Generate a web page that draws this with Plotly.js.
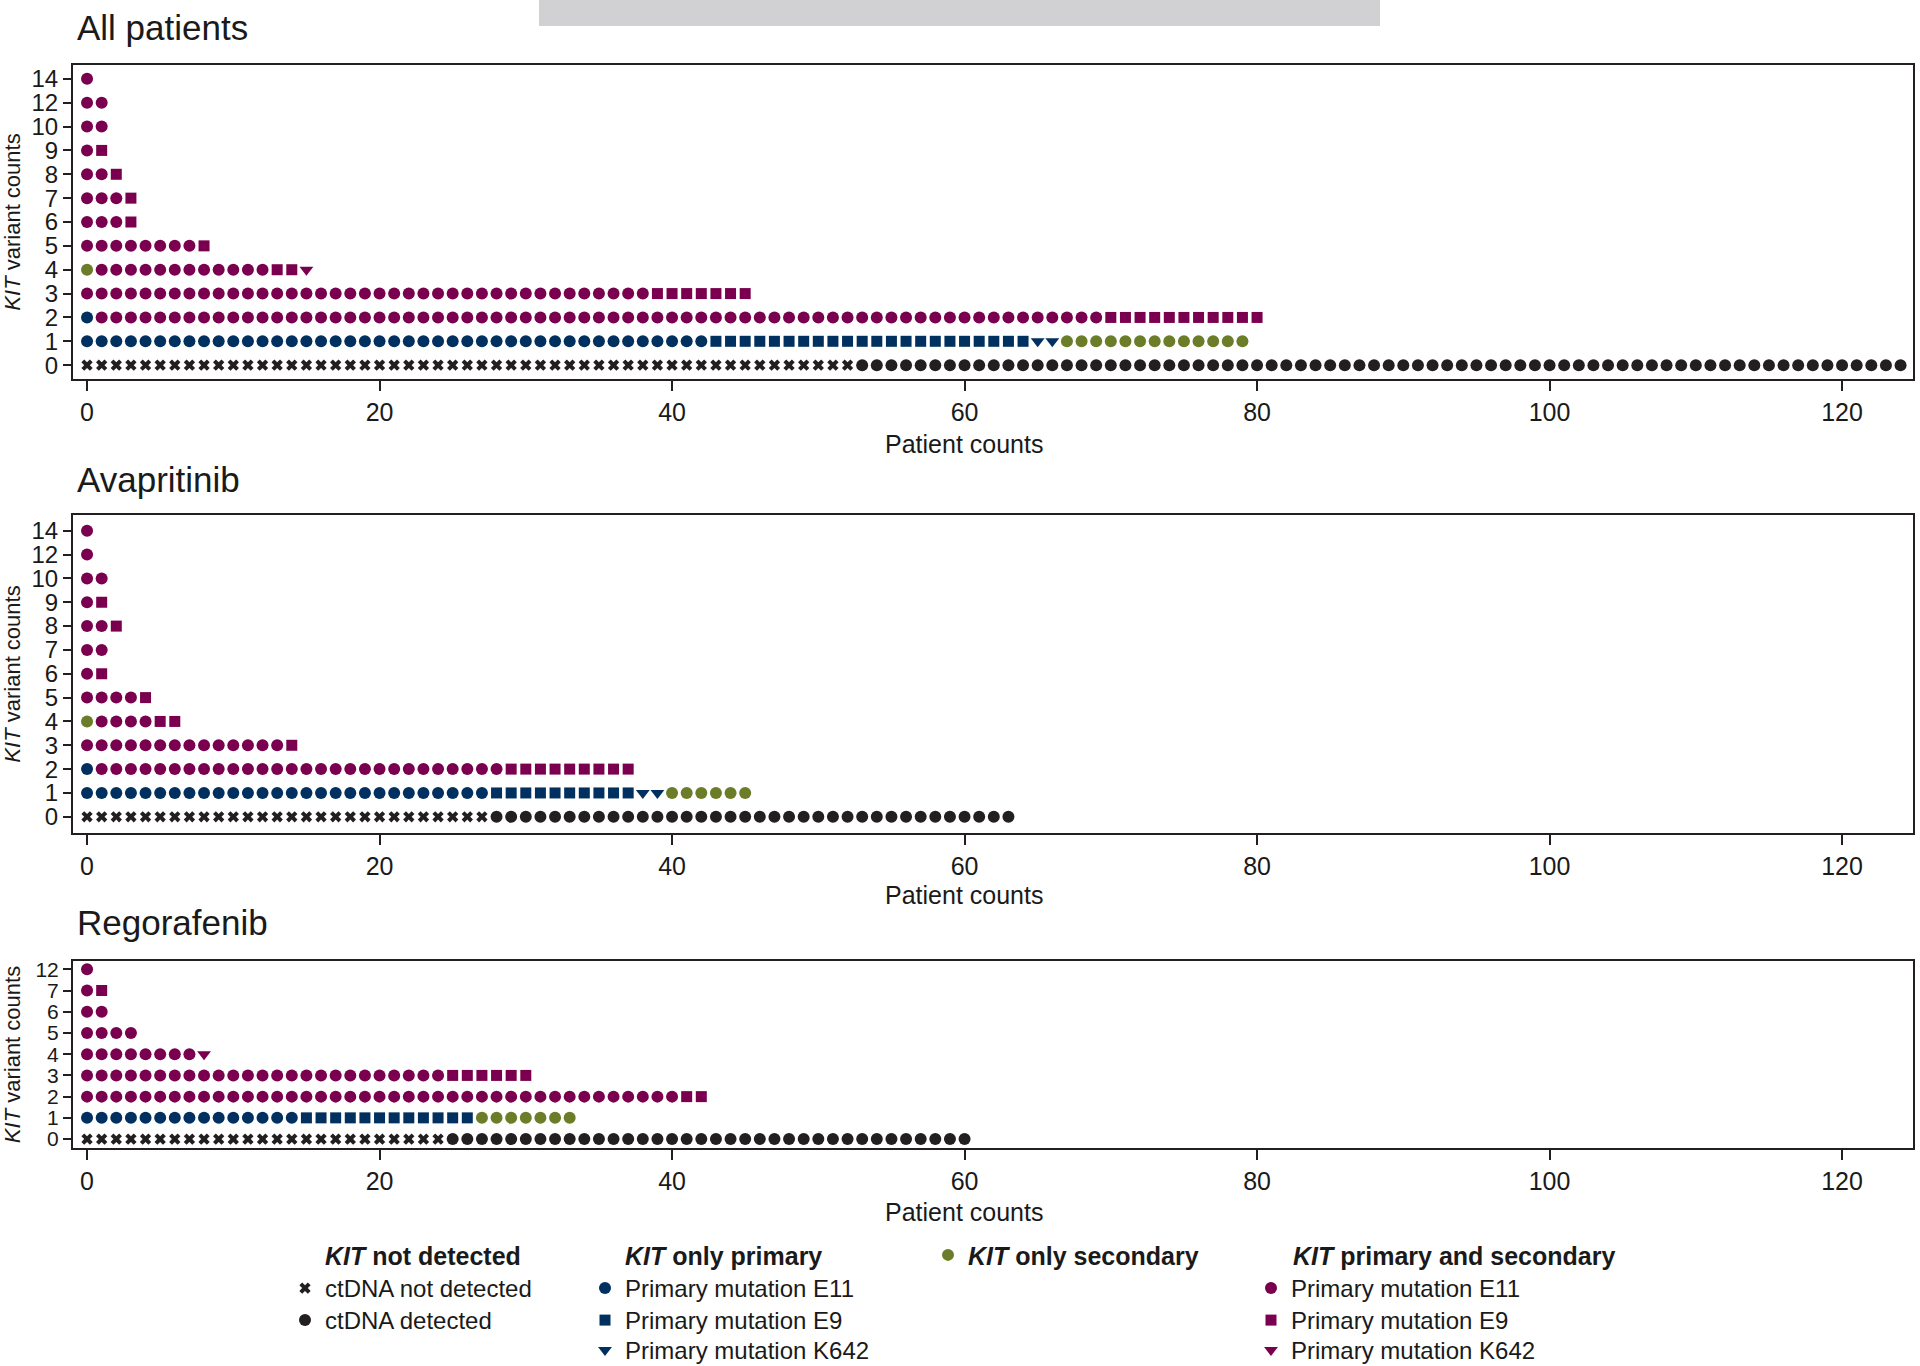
<!DOCTYPE html>
<html><head><meta charset="utf-8">
<script src="https://cdn.plot.ly/plotly-3.0.1.min.js"></script>
<style>html,body{margin:0;padding:0;background:#fff;overflow:hidden}#chart{width:1920px;height:1366px}</style>
</head><body><div id="chart"></div>
<script>
// ---------------- DATA ----------------
const CATEGORIES_MAIN = ['0','1','2','3','4','5','6','7','8','9','10','12','14'];
const CATEGORIES_REGO = ['0','1','2','3','4','5','6','7','12'];
const X_TICKS = [0, 20, 40, 60, 80, 100, 120];
const PANEL_TITLES = ['All patients', 'Avapritinib', 'Regorafenib'];
const X_TITLE = 'Patient counts';
const Y_TITLE = '<i>KIT</i> variant counts';
const SERIES_NAMES = ['ctDNA not detected', 'ctDNA detected',
  'Primary mutation E11', 'Primary mutation E9', 'Primary mutation K642',
  '<b><i>KIT</i> only secondary</b>',
  'Primary mutation E11', 'Primary mutation E9', 'Primary mutation K642'];
const LEGEND_HEADERS = ['<b><i>KIT</i> not detected</b>', '<b><i>KIT</i> only primary</b>', '<b><i>KIT</i> primary and secondary</b>'];

// All patients: number of patients per variant-count category
const ALL_NOT_DETECTED = [53,0,0,0,0,0,0,0,0,0,0,0,0];
const ALL_DETECTED     = [72,0,0,0,0,0,0,0,0,0,0,0,0];
const ALL_E11_ONLY     = [0,43,1,0,0,0,0,0,0,0,0,0,0];
const ALL_E9_ONLY      = [0,22,0,0,0,0,0,0,0,0,0,0,0];
const ALL_K642_ONLY    = [0,2,0,0,0,0,0,0,0,0,0,0,0];
const ALL_SECONDARY    = [0,13,0,0,1,0,0,0,0,0,0,0,0];
const ALL_E11_BOTH     = [0,0,69,39,12,8,3,3,2,1,2,2,1];
const ALL_E9_BOTH      = [0,0,11,7,2,1,1,1,1,1,0,0,0];
const ALL_K642_BOTH    = [0,0,0,0,1,0,0,0,0,0,0,0,0];

// Avapritinib
const AVA_NOT_DETECTED = [28,0,0,0,0,0,0,0,0,0,0,0,0];
const AVA_DETECTED     = [36,0,0,0,0,0,0,0,0,0,0,0,0];
const AVA_E11_ONLY     = [0,28,1,0,0,0,0,0,0,0,0,0,0];
const AVA_E9_ONLY      = [0,10,0,0,0,0,0,0,0,0,0,0,0];
const AVA_K642_ONLY    = [0,2,0,0,0,0,0,0,0,0,0,0,0];
const AVA_SECONDARY    = [0,6,0,0,1,0,0,0,0,0,0,0,0];
const AVA_E11_BOTH     = [0,0,28,14,4,4,1,2,2,1,2,1,1];
const AVA_E9_BOTH      = [0,0,9,1,2,1,1,0,1,1,0,0,0];
const AVA_K642_BOTH    = [0,0,0,0,0,0,0,0,0,0,0,0,0];

// Regorafenib
const REGO_NOT_DETECTED = [25,0,0,0,0,0,0,0,0];
const REGO_DETECTED     = [36,0,0,0,0,0,0,0,0];
const REGO_E11_ONLY     = [0,15,0,0,0,0,0,0,0];
const REGO_E9_ONLY      = [0,12,0,0,0,0,0,0,0];
const REGO_K642_ONLY    = [0,0,0,0,0,0,0,0,0];
const REGO_SECONDARY    = [0,7,0,0,0,0,0,0,0];
const REGO_E11_BOTH     = [0,0,41,25,8,4,2,1,1];
const REGO_E9_BOTH      = [0,0,2,6,0,0,0,1,0];
const REGO_K642_BOTH    = [0,0,0,0,1,0,0,0,0];

// ---------------- STYLE ----------------
const W = 1920, H = 1366;
const px = v => v / W;
const py = v => 1 - v / H;
const C_BLACK = '#231f20', C_NAVY = '#00305f', C_OLIVE = '#6b7d28', C_PLUM = '#7a004f';
const FONT = 'Liberation Sans, Arial, Helvetica, sans-serif';
const TXT = '#1a1a1a';

// one legend per entry so that the rows can be placed like the reference
const SERIES_STYLE = [
  {symbol:'x', color:C_BLACK, size:10, legend:'legend',  lx:285,  ly:1287, fs:24},
  {symbol:'circle', color:C_BLACK, size:12, legend:'legend2', lx:285,  ly:1319, fs:24},
  {symbol:'circle', color:C_NAVY, size:12, legend:'legend3', lx:585,  ly:1287, fs:24},
  {symbol:'square', color:C_NAVY, size:11, legend:'legend4', lx:585,  ly:1319, fs:24},
  {symbol:'triangle-down', color:C_NAVY, size:12, legend:'legend5', lx:585,  ly:1349, fs:24},
  {symbol:'circle', color:C_OLIVE, size:12, legend:'legend6', lx:928,  ly:1254, fs:25},
  {symbol:'circle', color:C_PLUM, size:12, legend:'legend7', lx:1251, ly:1287, fs:24},
  {symbol:'square', color:C_PLUM, size:11, legend:'legend8', lx:1251, ly:1319, fs:24},
  {symbol:'triangle-down', color:C_PLUM, size:12, legend:'legend9', lx:1251, ly:1349, fs:24}
];

const PANELS = [
  {cats: CATEGORIES_MAIN, counts: [ALL_NOT_DETECTED, ALL_DETECTED, ALL_E11_ONLY, ALL_E9_ONLY, ALL_K642_ONLY, ALL_SECONDARY, ALL_E11_BOTH, ALL_E9_BOTH, ALL_K642_BOTH],
   xa:'x', ya:'y', legend:true, top:65, bottom:379, yr:[-0.58, 12.58], titleY:27.5, xtY:444.5, yfs:24},
  {cats: CATEGORIES_MAIN, counts: [AVA_NOT_DETECTED, AVA_DETECTED, AVA_E11_ONLY, AVA_E9_ONLY, AVA_K642_ONLY, AVA_SECONDARY, AVA_E11_BOTH, AVA_E9_BOTH, AVA_K642_BOTH],
   xa:'x2', ya:'y2', legend:false, top:515, bottom:833, yr:[-0.68, 12.66], titleY:479.5, xtY:895, yfs:24},
  {cats: CATEGORIES_REGO, counts: [REGO_NOT_DETECTED, REGO_DETECTED, REGO_E11_ONLY, REGO_E9_ONLY, REGO_K642_ONLY, REGO_SECONDARY, REGO_E11_BOTH, REGO_E9_BOTH, REGO_K642_BOTH],
   xa:'x3', ya:'y3', legend:false, top:961, bottom:1148, yr:[-0.42, 8.39], titleY:922.5, xtY:1212, yfs:21}
];

// ---------------- TRACES ----------------
const traces = [];
PANELS.forEach(p => {
  const offset = p.cats.map(() => 0);
  p.counts.forEach((arr, si) => {
    const xs = [], ys = [];
    arr.forEach((n, r) => {
      for (let k = 0; k < n; k++) { xs.push(offset[r] + k); ys.push(p.cats[r]); }
      offset[r] += n;
    });
    const st = SERIES_STYLE[si];
    traces.push({
      type:'scatter', mode:'markers', x: xs, y: ys,
      xaxis: p.xa, yaxis: p.ya,
      name: SERIES_NAMES[si],
      legend: st.legend,
      showlegend: p.legend,
      marker: {symbol: st.symbol, color: st.color, size: st.size, line:{width:0}},
      hoverinfo:'x+y+name'
    });
  });
});

// ---------------- LAYOUT ----------------
const layout = {
  width: W, height: H,
  margin: {l:0, r:0, t:0, b:0, pad:0, autoexpand:false},
  paper_bgcolor:'#fff', plot_bgcolor:'#fff',
  font: {family: FONT, size: 24, color: TXT},
  annotations: [], shapes: [
    {type:'rect', xref:'paper', yref:'paper', x0:px(539), x1:px(1380), y0:py(0), y1:py(26), fillcolor:'#d1d1d3', line:{width:0}, layer:'above'}
  ]
};

PANELS.forEach((p, i) => {
  const xk = i === 0 ? 'xaxis' : 'xaxis' + (i + 1);
  const yk = i === 0 ? 'yaxis' : 'yaxis' + (i + 1);
  layout[xk] = {
    domain:[px(73), px(1913)], anchor: p.ya, range:[-0.96, 124.85],
    tickmode:'array', tickvals: X_TICKS, ticks:'outside', ticklen:10, tickwidth:2, tickcolor:C_BLACK,
    showline:true, mirror:true, linecolor:C_BLACK, linewidth:2, showgrid:false, zeroline:false,
    tickfont:{size:25, color:TXT}, automargin:false, fixedrange:true
  };
  layout[yk] = {
    domain:[py(p.bottom), py(p.top)], anchor: p.xa, type:'category',
    categoryorder:'array', categoryarray: p.cats, range: p.yr,
    tickmode:'array', tickvals: p.cats, ticktext: p.cats,
    ticks:'outside', ticklen:8, tickwidth:2, tickcolor:C_BLACK,
    showline:true, mirror:true, linecolor:C_BLACK, linewidth:2, showgrid:false, zeroline:false,
    tickfont:{size:p.yfs, color:TXT}, automargin:false, fixedrange:true,
    title:{text: Y_TITLE, font:{size:22, color:TXT}, standoff: 5 + (24 - p.yfs) * 1.1}
  };
  // panel title
  layout.annotations.push({
    text: PANEL_TITLES[i], xref:'paper', yref:'paper', x:px(75), y:py(p.titleY),
    xanchor:'left', yanchor:'middle', showarrow:false, font:{size:35, color:TXT}
  });
  // x-axis title (placed like the reference, slightly left of the axis centre)
  layout.annotations.push({
    text: X_TITLE, xref:'paper', yref:'paper', x:px(964), y:py(p.xtY),
    xanchor:'center', yanchor:'middle', showarrow:false, font:{size:25, color:TXT}
  });
});

SERIES_STYLE.forEach(st => {
  const off = st.fs * 0.875;
  layout[st.legend] = {
    x: px(st.lx), y: py(st.ly - off), xanchor:'left', yanchor:'top', orientation:'v',
    bgcolor:'rgba(0,0,0,0)', borderwidth:0, font:{size: st.fs, color:TXT},
    itemwidth:30, itemclick:false, itemdoubleclick:false
  };
});

const headerX = [323, 623, 1291];
LEGEND_HEADERS.forEach((t, i) => {
  layout.annotations.push({text:t, xref:'paper', yref:'paper', x:px(headerX[i]), y:py(1256),
    xanchor:'left', yanchor:'middle', showarrow:false, font:{size:25, color:TXT}});
});

Plotly.newPlot('chart', traces, layout, {displayModeBar:false, responsive:false});
</script></body></html>
